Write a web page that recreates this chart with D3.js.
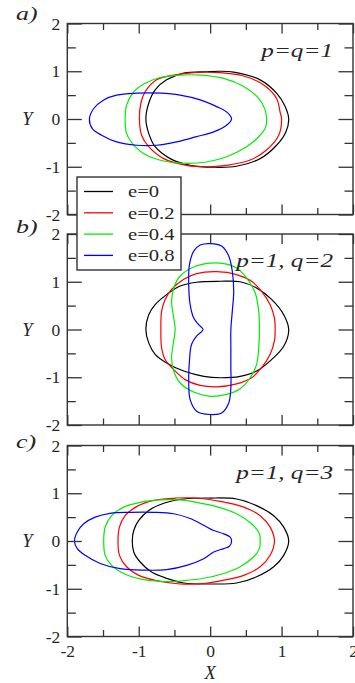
<!DOCTYPE html>
<html>
<head>
<meta charset="utf-8">
<script src="https://cdn.jsdelivr.net/npm/d3@7"></script>
<style>
  body { margin: 0; background: #fff; }
  svg { display: block; }
</style>
</head>
<body>
<div id="wrapper"></div>
<script>
const panelLabels = ["a)", "b)", "c)"];
const panelNotes = ["p=q=1", "p=1, q=2", "p=1, q=3"];
const seriesNames = ["e=0", "e=0.2", "e=0.4", "e=0.8"];
const majorTicks = [-2, -1, 0, 1, 2];
const minorTicks = [-1.5, -0.5, 0.5, 1.5];

// panel a) p=q=1, points [X, Y]
const orbitA0 = [[1.10,0],[1.05,0.26],[0.93,0.54],[0.70,0.82],[0.33,0.98],[0.14,1.0],[-0.05,0.99],[-0.37,0.96],[-0.61,0.82],[-0.77,0.61],[-0.86,0.33],[-0.90,0],[-0.86,-0.30],[-0.77,-0.58],[-0.56,-0.83],[-0.28,-0.97],[0.05,-1.01],[0.37,-0.99],[0.70,-0.83],[0.93,-0.55],[1.06,-0.27]];
const orbitA2 = [[1.0,0],[0.98,0.14],[0.93,0.43],[0.75,0.71],[0.47,0.90],[0.14,0.97],[-0.23,0.97],[-0.51,0.92],[-0.75,0.82],[-0.91,0.57],[-0.97,0.33],[-0.99,0],[-0.96,-0.34],[-0.86,-0.58],[-0.65,-0.83],[-0.33,-0.97],[-0.05,-1.0],[0.23,-0.97],[0.56,-0.86],[0.79,-0.65],[0.96,-0.34]];
const orbitA4 = [[0.79,0],[0.77,0.19],[0.68,0.43],[0.47,0.68],[0.19,0.85],[-0.14,0.92],[-0.42,0.92],[-0.70,0.87],[-0.91,0.75],[-1.07,0.57],[-1.17,0.29],[-1.19,0],[-1.17,-0.30],[-1.05,-0.58],[-0.89,-0.76],[-0.65,-0.88],[-0.37,-0.93],[-0.05,-0.90],[0.23,-0.79],[0.51,-0.58],[0.70,-0.34],[0.78,-0.16]];
const orbitA8 = [[0.30,0],[0.23,0.15],[0.09,0.26],[-0.14,0.40],[-0.42,0.50],[-0.70,0.54],[-1.03,0.54],[-1.31,0.50],[-1.49,0.40],[-1.63,0.22],[-1.69,0],[-1.65,-0.20],[-1.52,-0.34],[-1.31,-0.48],[-1.03,-0.55],[-0.75,-0.55],[-0.47,-0.48],[-0.19,-0.37],[0.05,-0.27],[0.23,-0.13]];

// panel b) p=1, q=2
const orbitB0 = [[1.10,0],[1.03,0.31],[0.86,0.63],[0.65,0.87],[0.42,1.0],[0.14,1.01],[-0.19,0.99],[-0.42,0.91],[-0.61,0.73],[-0.77,0.52],[-0.86,0.31],[-0.90,0],[-0.86,-0.28],[-0.77,-0.52],[-0.61,-0.70],[-0.37,-0.87],[-0.09,-0.98],[0.14,-1.01],[0.42,-0.98],[0.65,-0.87],[0.86,-0.63],[1.03,-0.35]];
const orbitB2 = [[0.91,0],[0.90,0.24],[0.84,0.52],[0.72,0.80],[0.58,1.01],[0.37,1.15],[0.09,1.21],[-0.19,1.17],[-0.37,1.05],[-0.54,0.84],[-0.63,0.63],[-0.68,0.38],[-0.69,0],[-0.68,-0.38],[-0.63,-0.63],[-0.51,-0.84],[-0.35,-1.05],[-0.14,-1.17],[0.09,-1.20],[0.37,-1.14],[0.58,-1.01],[0.72,-0.80],[0.84,-0.52],[0.90,-0.24]];
const orbitB4 = [[0.69,0],[0.68,0.38],[0.63,0.77],[0.51,1.08],[0.37,1.29],[0.19,1.38],[0,1.39],[-0.23,1.31],[-0.42,1.12],[-0.51,0.87],[-0.54,0.59],[-0.51,0.24],[-0.49,0],[-0.51,-0.24],[-0.54,-0.59],[-0.51,-0.87],[-0.42,-1.12],[-0.23,-1.31],[0,-1.40],[0.23,-1.36],[0.42,-1.24],[0.56,-1.01],[0.65,-0.73],[0.68,-0.38]];
const orbitB8 = [[0.29,0],[0.31,0.38],[0.33,0.80],[0.31,1.22],[0.26,1.54],[0.16,1.75],[0,1.80],[-0.14,1.77],[-0.23,1.64],[-0.29,1.36],[-0.30,0.94],[-0.28,0.52],[-0.23,0.24],[-0.16,0.10],[-0.10,0],[-0.19,-0.14],[-0.26,-0.31],[-0.29,-0.66],[-0.30,-1.08],[-0.28,-1.47],[-0.19,-1.71],[0,-1.78],[0.16,-1.75],[0.26,-1.54],[0.29,-1.22],[0.29,-0.80],[0.29,-0.38]];

// panel c) p=1, q=3
const orbitC0 = [[1.10,0],[1.03,0.29],[0.89,0.53],[0.65,0.74],[0.37,0.88],[0,0.90],[-0.37,0.88],[-0.65,0.79],[-0.86,0.64],[-1.0,0.43],[-1.07,0.22],[-1.09,0],[-1.07,-0.23],[-0.98,-0.44],[-0.82,-0.65],[-0.61,-0.78],[-0.37,-0.88],[0,-0.90],[0.37,-0.88],[0.65,-0.75],[0.89,-0.54],[1.03,-0.30]];
const orbitC2 = [[0.90,0],[0.84,0.29],[0.70,0.53],[0.47,0.71],[0.14,0.83],[-0.19,0.90],[-0.47,0.90],[-0.79,0.85],[-1.03,0.72],[-1.19,0.53],[-1.27,0.29],[-1.29,0],[-1.27,-0.30],[-1.17,-0.54],[-1.0,-0.72],[-0.75,-0.83],[-0.42,-0.90],[-0.09,-0.89],[0.19,-0.82],[0.47,-0.72],[0.70,-0.54],[0.84,-0.30]];
const orbitC4 = [[0.70,0],[0.69,0.15],[0.58,0.36],[0.37,0.57],[0.09,0.72],[-0.19,0.81],[-0.42,0.86],[-0.70,0.86],[-0.98,0.81],[-1.21,0.71],[-1.38,0.53],[-1.47,0.29],[-1.49,0],[-1.47,-0.30],[-1.38,-0.51],[-1.21,-0.68],[-0.96,-0.80],[-0.65,-0.85],[-0.37,-0.83],[-0.09,-0.78],[0.19,-0.68],[0.42,-0.54],[0.61,-0.33],[0.69,-0.16]];
const orbitC8 = [[0.30,0],[0.28,0.08],[0.19,0.15],[0.05,0.22],[-0.09,0.33],[-0.28,0.47],[-0.51,0.57],[-0.79,0.60],[-1.12,0.60],[-1.40,0.58],[-1.61,0.50],[-1.77,0.36],[-1.86,0.19],[-1.90,0],[-1.86,-0.16],[-1.75,-0.30],[-1.54,-0.47],[-1.26,-0.58],[-0.93,-0.61],[-0.61,-0.60],[-0.33,-0.51],[-0.09,-0.37],[0.05,-0.23],[0.19,-0.16],[0.27,-0.11]];

const panelOrbits = [
    [orbitA0, orbitA2, orbitA4, orbitA8],
    [orbitB0, orbitB2, orbitB4, orbitB8],
    [orbitC0, orbitC2, orbitC4, orbitC8]
];

const colors = ["#000000", "#ff0000", "#00ee00", "#0000ff"];
const serif = "'Liberation Serif', 'DejaVu Serif', serif";
const frameColor = "#333";
const textColor = "#262626";

var dimension = {
    width: 355,
    height: 683,
    left: 67.3,
    right: 353,
    panelHeight: 191,
    panelTops: [23.5, 234, 445.5],
    labelOffsets: [-3.5, -1.5, 2]
};

const svg = d3.select("#wrapper").append("svg")
    .attr("width", dimension.width)
    .attr("height", dimension.height);

const xScaler = d3.scaleLinear()
    .domain([-2, 2])
    .range([dimension.left, dimension.right]);

const lineGenerator = d3.line()
    .x(d => xScaler(d[0]))
    .curve(d3.curveCatmullRomClosed.alpha(0.5));

function styleAxis(g) {
    g.select(".domain").remove();
    g.attr("color", frameColor)
        .attr("font-family", serif)
        .attr("font-size", 17.5);
    g.selectAll(".tick line").attr("stroke-width", 1.3);
    g.selectAll(".tick text").attr("fill", textColor);
}

panelOrbits.forEach((orbits, i) => {
    const top = dimension.panelTops[i];
    const bottom = top + dimension.panelHeight;
    const yScaler = d3.scaleLinear().domain([-2, 2]).range([bottom, top]);
    const panel = svg.append("g");

    // curves
    orbits.forEach((pts, k) => {
        panel.append("path")
            .attr("d", lineGenerator.y(d => yScaler(d[1]))(pts))
            .attr("fill", "none")
            .attr("stroke", colors[k])
            .attr("stroke-width", 1.2);
    });

    // ticks, all pointing inward
    panel.append("g")
        .attr("transform", `translate(${dimension.left},0)`)
        .call(d3.axisLeft(yScaler).tickValues(majorTicks).tickSize(-14.5).tickPadding(7).tickFormat(d => String(d)))
        .call(styleAxis);
    panel.append("g")
        .attr("transform", `translate(${dimension.left},0)`)
        .call(d3.axisLeft(yScaler).tickValues(minorTicks).tickSize(-8.5).tickFormat(""))
        .call(styleAxis);
    panel.append("g")
        .attr("transform", `translate(${dimension.right},0)`)
        .call(d3.axisRight(yScaler).tickValues(majorTicks).tickSize(-14.5).tickFormat(""))
        .call(styleAxis);
    panel.append("g")
        .attr("transform", `translate(${dimension.right},0)`)
        .call(d3.axisRight(yScaler).tickValues(minorTicks).tickSize(-8.5).tickFormat(""))
        .call(styleAxis);
    panel.append("g")
        .attr("transform", `translate(0,${top})`)
        .call(d3.axisTop(xScaler).tickValues(majorTicks).tickSize(-10).tickFormat(""))
        .call(styleAxis);
    panel.append("g")
        .attr("transform", `translate(0,${top})`)
        .call(d3.axisTop(xScaler).tickValues(minorTicks).tickSize(-6.5).tickFormat(""))
        .call(styleAxis);
    panel.append("g")
        .attr("transform", `translate(0,${bottom})`)
        .call(d3.axisBottom(xScaler).tickValues(majorTicks).tickSize(-10).tickPadding(8)
            .tickFormat(i === 2 ? (d => String(d)) : ""))
        .call(styleAxis);
    panel.append("g")
        .attr("transform", `translate(0,${bottom})`)
        .call(d3.axisBottom(xScaler).tickValues(minorTicks).tickSize(-6.5).tickFormat(""))
        .call(styleAxis);

    // frame
    panel.append("rect")
        .attr("x", dimension.left)
        .attr("y", top)
        .attr("width", dimension.right - dimension.left)
        .attr("height", dimension.panelHeight)
        .attr("fill", "none")
        .attr("stroke", frameColor)
        .attr("stroke-width", 1.4);

    // Y label
    panel.append("text")
        .attr("x", 27.5)
        .attr("y", yScaler(0))
        .attr("dy", "0.34em")
        .attr("text-anchor", "middle")
        .attr("font-family", serif)
        .attr("font-style", "italic")
        .attr("font-size", 18.5)
        .attr("fill", textColor)
        .text("Y");

    // panel letter
    panel.append("text")
        .attr("transform", `translate(16,${top + dimension.labelOffsets[i]}) scale(1.4,1)`)
        .attr("font-family", serif)
        .attr("font-style", "italic")
        .attr("font-size", 18.5)
        .attr("fill", textColor)
        .text(panelLabels[i]);

    // p, q annotation
    panel.append("text")
        .attr("transform", `translate(333,${top + 33}) scale(1.36,1)`)
        .attr("text-anchor", "end")
        .attr("font-family", serif)
        .attr("font-style", "italic")
        .attr("font-size", 18.5)
        .attr("fill", textColor)
        .text(panelNotes[i]);
});

// X label
svg.append("text")
    .attr("x", xScaler(0))
    .attr("y", 679)
    .attr("text-anchor", "middle")
    .attr("font-family", serif)
    .attr("font-style", "italic")
    .attr("font-size", 18.5)
    .attr("fill", textColor)
    .text("X");

// legend, drawn over panels a and b
const legend = svg.append("g").attr("transform", "translate(77,177)");
legend.append("rect")
    .attr("width", 104)
    .attr("height", 93)
    .attr("fill", "#fff")
    .attr("stroke", frameColor)
    .attr("stroke-width", 1.4);

seriesNames.forEach((name, k) => {
    const yPos = 14.5 + k * 21.3;
    legend.append("line")
        .attr("x1", 7).attr("x2", 36)
        .attr("y1", yPos).attr("y2", yPos)
        .attr("stroke", colors[k])
        .attr("stroke-width", 1.3);
    legend.append("text")
        .attr("transform", `translate(51,${yPos}) scale(1.25,1)`)
        .attr("dy", "0.36em")
        .attr("font-family", serif)
        .attr("font-size", 16.5)
        .attr("fill", textColor)
        .text(name);
});
</script>
</body>
</html>
